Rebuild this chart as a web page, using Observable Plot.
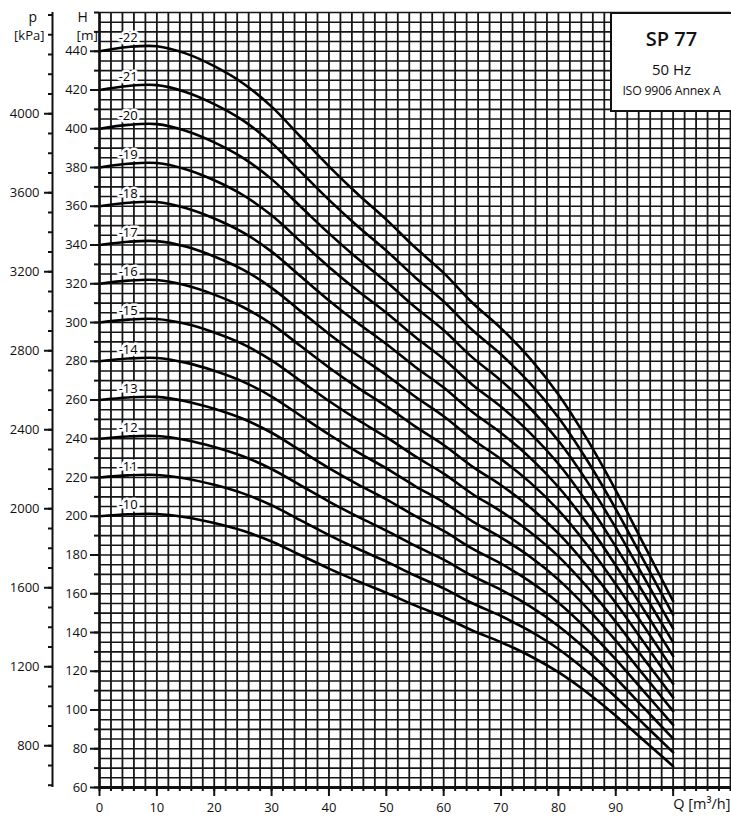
<!DOCTYPE html>
<html>
<head>
<meta charset="utf-8">
<script src="https://cdn.jsdelivr.net/npm/d3@7"></script>
<script src="https://cdn.jsdelivr.net/npm/@observablehq/plot@0.6"></script>
<style>
  html, body { margin: 0; padding: 0; background: #fff; }
  #wrap { position: relative; width: 731px; height: 823px; font-family: 'Open Sans', sans-serif; color: #111; }
  #box { position: absolute; left: 610px; top: 12px; width: 119px; height: 96px; border: 2px solid #111; background: #fff; }
  #box div { position: absolute; left: 0; right: 0; text-align: center; white-space: nowrap; }
</style>
</head>
<body>
<div id="wrap">
  <div id="chart"></div>
  <div id="box">
    <div style="top:11px;font-size:20px;font-weight:600;">SP 77</div>
    <div style="top:45px;font-size:15px;">50 Hz</div>
    <div style="top:68px;font-size:12.3px;letter-spacing:-0.2px;">ISO 9906 Annex A</div>
  </div>
</div>
<script>
// Flow rate points [m³/h]
const Q = [0, 5, 10, 15, 20, 25, 30, 35, 40, 45, 50, 55, 60, 65, 70, 75, 80, 85, 90, 95, 100];
// Number of stages
const stages = [10, 11, 12, 13, 14, 15, 16, 17, 18, 19, 20, 21, 22];
// Head H [m] for each stage curve
const H10 = [200, 201, 201.2, 199.5, 196.5, 192.5, 187, 180, 173, 166.5, 160.5, 154, 148, 141, 135, 128, 119.5, 109, 97, 84, 71];
const H11 = [220, 221.1, 221.3, 219.5, 216.2, 211.8, 205.7, 198, 190.3, 183.2, 176.6, 169.4, 162.8, 155.1, 148.5, 140.8, 131.5, 119.9, 106.7, 92.4, 78.1];
const H12 = [240, 241.2, 241.4, 239.4, 235.8, 231, 224.4, 216, 207.6, 199.8, 192.6, 184.8, 177.6, 169.2, 162, 153.6, 143.4, 130.8, 116.4, 100.8, 85.2];
const H13 = [260, 261.3, 261.6, 259.4, 255.5, 250.3, 243.1, 234, 224.9, 216.5, 208.7, 200.2, 192.4, 183.3, 175.5, 166.4, 155.4, 141.7, 126.1, 109.2, 92.3];
const H14 = [280, 281.4, 281.7, 279.3, 275.1, 269.5, 261.8, 252, 242.2, 233.1, 224.7, 215.6, 207.2, 197.4, 189, 179.2, 167.3, 152.6, 135.8, 117.6, 99.4];
const H15 = [300, 301.5, 301.8, 299.3, 294.8, 288.8, 280.5, 270, 259.5, 249.8, 240.8, 231, 222, 211.5, 202.5, 192, 179.3, 163.5, 145.5, 126, 106.5];
const H16 = [320, 321.6, 321.9, 319.2, 314.4, 308, 299.2, 288, 276.8, 266.4, 256.8, 246.4, 236.8, 225.6, 216, 204.8, 191.2, 174.4, 155.2, 134.4, 113.6];
const H17 = [340, 341.7, 342, 339.2, 334.1, 327.3, 317.9, 306, 294.1, 283.1, 272.9, 261.8, 251.6, 239.7, 229.5, 217.6, 203.2, 185.3, 164.9, 142.8, 120.7];
const H18 = [360, 361.8, 362.2, 359.1, 353.7, 346.5, 336.6, 324, 311.4, 299.7, 288.9, 277.2, 266.4, 253.8, 243, 230.4, 215.1, 196.2, 174.6, 151.2, 127.8];
const H19 = [380, 381.9, 382.3, 379.1, 373.4, 365.8, 355.3, 342, 328.7, 316.4, 305, 292.6, 281.2, 267.9, 256.5, 243.2, 227.1, 207.1, 184.3, 159.6, 134.9];
const H20 = [400, 402, 402.4, 399, 393, 385, 374, 360, 346, 333, 321, 308, 296, 282, 270, 256, 239, 218, 194, 168, 142];
const H21 = [420, 422.1, 422.5, 419, 412.7, 404.3, 392.7, 378, 363.3, 349.7, 337.1, 323.4, 310.8, 296.1, 283.5, 268.8, 251, 228.9, 203.7, 176.4, 149.1];
const H22 = [440, 442.2, 442.6, 438.9, 432.3, 423.5, 411.4, 396, 380.6, 366.3, 353.1, 338.8, 325.6, 310.2, 297, 281.6, 262.9, 239.8, 213.4, 184.8, 156.2];
const curves = [H10, H11, H12, H13, H14, H15, H16, H17, H18, H19, H20, H21, H22];

// Axis tick labels
const xTickLabels = [0, 10, 20, 30, 40, 50, 60, 70, 80, 90];
const xMajorTicks = [0, 10, 20, 30, 40, 50, 60, 70, 80, 90, 100];
const hTickLabels = [60, 80, 100, 120, 140, 160, 180, 200, 220, 240, 260, 280, 300, 320, 340, 360, 380, 400, 420, 440];
const pTickLabels = [800, 1200, 1600, 2000, 2400, 2800, 3200, 3600, 4000];
const kPaPerMetre = 9.81;

const data = stages.flatMap((s, i) => Q.map((q, j) => ({stage: s, Q: q, H: curves[i][j]})));
const labelData = stages.map((s, i) => ({stage: s, Q: Q[1], H: curves[i][1]}));

const xGrid = d3.range(0, 111, 2);
const yGrid = d3.range(60, 461, 5);
const hMinor = d3.range(60, 461, 10);
const pMinor = d3.range(600, 4501, 100);

const ink = "#111";

const chart = Plot.plot({
  width: 731,
  height: 823,
  marginLeft: 99,
  marginRight: 1,
  marginTop: 12,
  marginBottom: 36,
  x: {domain: [0, 110], axis: null},
  y: {domain: [60, 460], axis: null},
  style: {fontFamily: "'Open Sans', sans-serif", fontSize: "13px", color: ink, background: "#fff", overflow: "visible"},
  marks: [
    Plot.gridX(xGrid, {stroke: "#161616", strokeOpacity: 1, strokeWidth: 1.8}),
    Plot.gridY(yGrid, {stroke: "#161616", strokeOpacity: 1, strokeWidth: 1.6}),
    Plot.line(data, {x: "Q", y: "H", z: "stage", curve: "catmull-rom", stroke: "#000", strokeWidth: 2.6}),
    Plot.text(labelData, {x: "Q", y: "H", text: d => "-" + d.stage, dy: -9, fill: "#000", stroke: "#fff", strokeWidth: 5, fontSize: 13}),
    // bottom axis
    Plot.ruleY([60], {stroke: ink, strokeWidth: 3}),
    Plot.axisX(xGrid, {anchor: "bottom", label: null, tickSize: 4, tickFormat: () => "", strokeWidth: 2}),
    Plot.axisX(xMajorTicks, {anchor: "bottom", label: null, tickSize: 9, tickFormat: () => "", strokeWidth: 2}),
    Plot.axisX(xTickLabels, {anchor: "bottom", label: null, tickSize: 0, tickPadding: 15, fontSize: 13}),
    Plot.text(["Q [m³/h]"], {frameAnchor: "bottom-right", dy: 21, textAnchor: "end", fontSize: 14.5, fill: ink}),
    // H axis
    Plot.ruleX([0], {stroke: ink, strokeWidth: 2.5}),
    Plot.axisY(hMinor, {anchor: "left", label: null, tickSize: 5, tickFormat: () => "", strokeWidth: 2}),
    Plot.axisY(hTickLabels, {anchor: "left", label: null, tickSize: 9, tickPadding: 3, strokeWidth: 2, fontSize: 13}),
    Plot.text(["H"], {frameAnchor: "top-left", dx: -22, dy: 0, fontSize: 14, fill: ink}),
    Plot.text(["[m]"], {frameAnchor: "top-left", dx: -23, dy: 18, fontSize: 13.5, fill: ink}),
    // p axis
    Plot.ruleX([0], {dx: -47, stroke: ink, strokeWidth: 2}),
    Plot.axisY(pMinor.map(p => p / kPaPerMetre), {anchor: "left", label: null, dx: -47, tickSize: 4, tickFormat: () => "", strokeWidth: 2}),
    Plot.axisY(pTickLabels.map(p => p / kPaPerMetre), {anchor: "left", label: null, dx: -47, tickSize: 8, tickPadding: 5, strokeWidth: 2, fontSize: 13, tickFormat: d => String(Math.round(d * kPaPerMetre))}),
    Plot.text(["p"], {frameAnchor: "top-left", dx: -71, dy: 0, fontSize: 14, fill: ink}),
    Plot.text(["[kPa]"], {frameAnchor: "top-left", dx: -55, dy: 18, textAnchor: "end", fontSize: 13, fill: ink})
  ]
});
document.getElementById("chart").appendChild(chart);
</script>
</body>
</html>
